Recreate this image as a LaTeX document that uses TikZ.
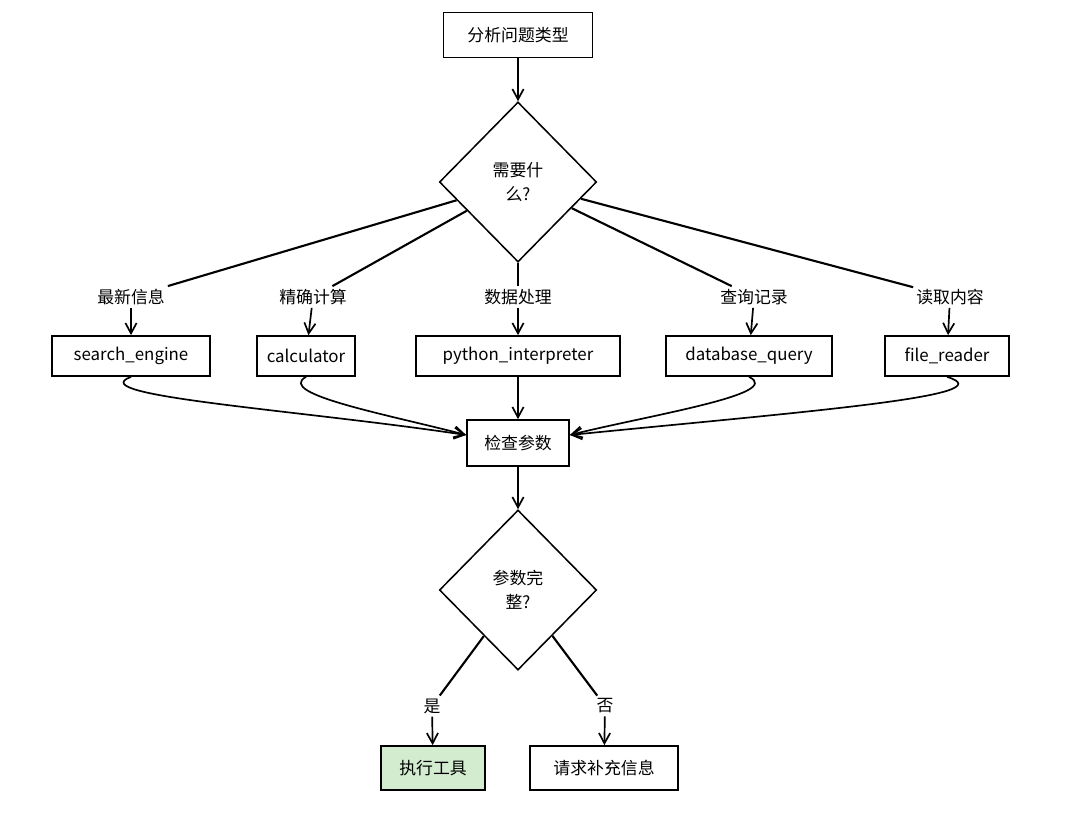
\documentclass[tikz,border=0pt]{standalone}
\usepackage{fontspec}
\setmainfont{Noto Sans CJK SC}
\usetikzlibrary{shapes.geometric,arrows.meta}
\definecolor{okgreen}{HTML}{D3EBCF}
\begin{document}
\begin{tikzpicture}[x=0.025cm, y=-0.025cm,
    every node/.style={font=\fontsize{12}{17}\selectfont},
    box/.style={draw, line width=1.2pt, inner sep=0pt, minimum height=1cm},
    decision/.style={diamond, draw, line width=1.1pt, inner sep=0pt, minimum width=3.93cm, minimum height=4cm, align=center},
    lab/.style={inner sep=2pt},
    link/.style={line width=1.5pt},
    arr/.style={line width=1.2pt, -{Straight Barb[length=2.6mm,width=2.8mm]}}]
    \useasboundingbox (0,0) rectangle (1076,836);

    %––––– top –––––
    \node[box, minimum width=3.73cm, minimum height=1.13cm] (start) at (518,35) {分析问题类型};

    \node[decision] (need) at (518,182) {需要什\\么?};
    \draw[arr] (start) -- (need);

    %––––– labels –––––
    \node[lab] (l1) at (131,297) {最新信息};
    \draw[link] (need) -- (l1);

    \node[lab] (l2) at (313,297) {精确计算};
    \draw[link] (need) -- (l2);

    \node[lab] (l3) at (518,297) {数据处理};
    \draw[link] (need) -- (l3);

    \node[lab] (l4) at (754,297) {查询记录};
    \draw[link] (need) -- (l4);

    \node[lab] (l5) at (950,297) {读取内容};
    \draw[link] (need) -- (l5);

    %––––– tools –––––
    \node[box, minimum width=3.95cm] (search) at (131,356) {search\_engine};
    \draw[arr] (l1) -- (search);

    \node[box, minimum width=2.45cm] (calc) at (306,356) {calculator};
    \draw[arr] (l2) -- (calc);

    \node[box, minimum width=5.1cm] (python) at (518,356) {python\_interpreter};
    \draw[arr] (l3) -- (python);

    \node[box, minimum width=4.15cm] (dbq) at (749,356) {database\_query};
    \draw[arr] (l4) -- (dbq);

    \node[box, minimum width=3.1cm] (reader) at (947,356) {file\_reader};
    \draw[arr] (l5) -- (reader);

    %––––– check –––––
    \node[box, minimum width=2.55cm, minimum height=1.15cm] (check) at (518,443) {检查参数};
    \draw[arr] (search.south) .. controls (80,396) and (300,410) .. ([yshift=0.2cm]check.west);
    \draw[arr] (calc.south) .. controls (275,394) and (390,415) .. ([yshift=0.2cm]check.west);
    \draw[arr] (python) -- (check);
    \draw[arr] (dbq.south) .. controls (785,394) and (650,415) .. ([yshift=0.2cm]check.east);
    \draw[arr] (reader.south) .. controls (1010,396) and (800,412) .. ([yshift=0.2cm]check.east);

    \node[decision] (full) at (518,590) {参数完\\整?};
    \draw[arr] (check) -- (full);

    %––––– result –––––
    \node[lab] (yes) at (432,706) {是};
    \draw[link] (full) -- (yes);

    \node[lab] (no) at (605,706) {否};
    \draw[link] (full) -- (no);

    \node[box, fill=okgreen, minimum width=2.6cm, minimum height=1.1cm] (run) at (433,768) {执行工具};
    \draw[arr] (yes) -- (run);

    \node[box, minimum width=3.7cm, minimum height=1.1cm] (ask) at (604,768) {请求补充信息};
    \draw[arr] (no) -- (ask);
  \end{tikzpicture}
\end{document}
